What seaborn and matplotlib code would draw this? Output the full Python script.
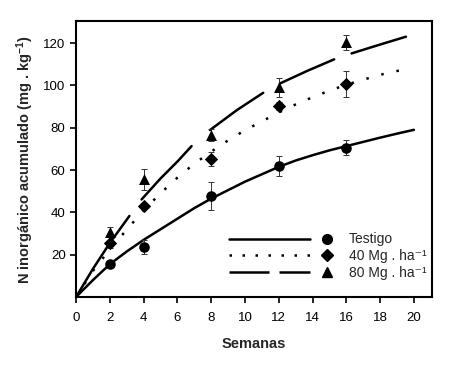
import numpy as np
import pandas as pd
import matplotlib
matplotlib.use('Agg')
import matplotlib.pyplot as plt
import seaborn as sns
from matplotlib.lines import Line2D
from matplotlib.legend_handler import HandlerBase

# Observed means and error bars (weeks)
semanas = [2, 4, 8, 12, 16]
testigo = [15.6, 23.5, 47.7, 62.0, 70.5]
testigo_err = [1.0, 3.3, 6.5, 4.8, 3.6]
mg40 = [25.7, 43.0, 65.2, 90.2, 100.6]
mg40_err = [2.5, 1.5, 3.5, 2.0, 6.2]
mg80 = [30.9, 55.7, 76.5, 99.0, 120.3]
mg80_err = [2.0, 4.9, 3.0, 4.7, 3.6]

# Fitted curves
curva_t = [0, 1, 2, 3, 4, 5, 6, 7, 8, 9, 10, 11, 12, 13, 14, 15, 16, 17, 18, 19, 20]
curva_testigo = [0, 8.0, 15.5, 21.5, 27.0, 32.0, 37.0, 42.0, 46.5, 50.5, 54.5, 58.0,
                 61.5, 64.5, 67.0, 69.3, 71.3, 73.3, 75.3, 77.2, 79.0]
curva_t40 = [0, 1, 2, 3, 4, 5, 6, 7, 8, 9, 10, 11, 12, 13, 14, 15, 16, 17, 18, 19.4]
curva_40 = [0, 12.3, 22.5, 31.8, 41.0, 49.0, 56.4, 63.0, 68.7, 74.0, 78.8, 83.0, 87.2,
            91.0, 94.4, 97.5, 100.3, 102.7, 105.0, 107.5]
# the 80 Mg curve is drawn as separate dashes (tramo = dash number)
curva_t80 = [0, 1, 2, 3.16, 3.88, 5, 6, 6.84, 7.93, 9.5, 11.08, 12.07, 13.7, 15.28,
             16.31, 18, 19.53]
curva_80 = [0, 13.3, 25.5, 38.3, 46.1, 56.0, 64.0, 71.3, 78.9, 88.2, 96.5, 100.9, 106.9,
            112.3, 115.1, 119.3, 123.0]
tramo_80 = [1, 1, 1, 1, 2, 2, 2, 2, 3, 3, 3, 4, 4, 4, 5, 5, 5]

sns.set_style('ticks')
plt.rcParams['font.family'] = ['Liberation Sans', 'DejaVu Sans']
plt.rcParams['mathtext.fontset'] = 'custom'
plt.rcParams['mathtext.rm'] = 'Liberation Sans'
plt.rcParams['mathtext.bf'] = 'Liberation Sans:bold'
plt.rcParams['mathtext.it'] = 'Liberation Sans:italic'

fig = plt.figure(figsize=(4.73, 3.69), dpi=100)
ax = fig.add_axes([0.1607, 0.195, 0.9133 - 0.1607, 0.943 - 0.195])

lw = 1.8
dotted = (0, (1, 5.2))

sns.lineplot(x=curva_t, y=curva_testigo, ax=ax, color='black', lw=lw, linestyle='-')
sns.lineplot(x=curva_t40, y=curva_40, ax=ax, color='black', lw=lw, linestyle=dotted)
df80 = pd.DataFrame({'t': curva_t80, 'n': curva_80, 'tramo': tramo_80})
sns.lineplot(data=df80, x='t', y='n', units='tramo', estimator=None, ax=ax,
             color='black', lw=lw, sort=False)

series = [
    (testigo, testigo_err, 'o', 58),
    (mg40, mg40_err, 'D', 46),
    (mg80, mg80_err, '^', 62),
]
for vals, errs, mk, size in series:
    ax.errorbar(semanas, vals, yerr=errs, fmt='none', ecolor='#333333',
                elinewidth=0.7, capsize=2.5, capthick=0.7, zorder=3)
    sns.scatterplot(x=semanas, y=vals, ax=ax, marker=mk, s=size, color='black',
                    edgecolor='black', linewidth=0, zorder=4)

ax.set_xlim(0, 21.07)
ax.set_ylim(0, 130.4)
ax.set_xticks(range(0, 21, 2))
ax.set_yticks(range(20, 121, 20))
ax.tick_params(direction='out', length=4, width=1.2, labelsize=9.5, colors='black')
ax.tick_params(axis='x', pad=7)
for sp in ax.spines.values():
    sp.set_visible(True)
    sp.set_linewidth(1.5)
    sp.set_color('black')

ax.set_xlabel('Semanas', fontsize=10.5, fontweight='bold', labelpad=9)
ax.set_ylabel(r'N inorgánico acumulado (mg . kg$^{\mathbf{-1}}$)', fontsize=10.5,
              fontweight='bold', labelpad=5)


class LineThenMarker(HandlerBase):
    def create_artists(self, legend, orig_handle, xdescent, ydescent, width,
                       height, fontsize, trans):
        ls, mk, ms = orig_handle
        y = height / 2 - ydescent
        x0 = -xdescent
        line = Line2D([x0, x0 + 0.75 * width], [y, y], color='black', lw=lw,
                      linestyle=ls, transform=trans)
        mark = Line2D([x0 + 0.9 * width], [y], marker=mk, ms=ms, color='black',
                      ls='none', transform=trans)
        return [line, mark]


class Key:
    def __init__(self, ls, mk, ms):
        self.v = (ls, mk, ms)

    def __iter__(self):
        return iter(self.v)


handles = [Key('-', 'o', 7), Key((0, (1, 4.2)), 'D', 6.2), Key((0, (16, 4)), '^', 7.5)]
labels = ['Testigo', '40 Mg . ha\u207b\u00b9', '80 Mg . ha\u207b\u00b9']
ax.legend(handles, labels, handler_map={Key: LineThenMarker()}, loc='lower left',
          bbox_to_anchor=(0.43, 0.062), frameon=False, fontsize=10,
          handlelength=7.8, handletextpad=0.8, labelspacing=0.2,
          borderpad=0, borderaxespad=0)

fig.savefig('out.png', dpi=100)
